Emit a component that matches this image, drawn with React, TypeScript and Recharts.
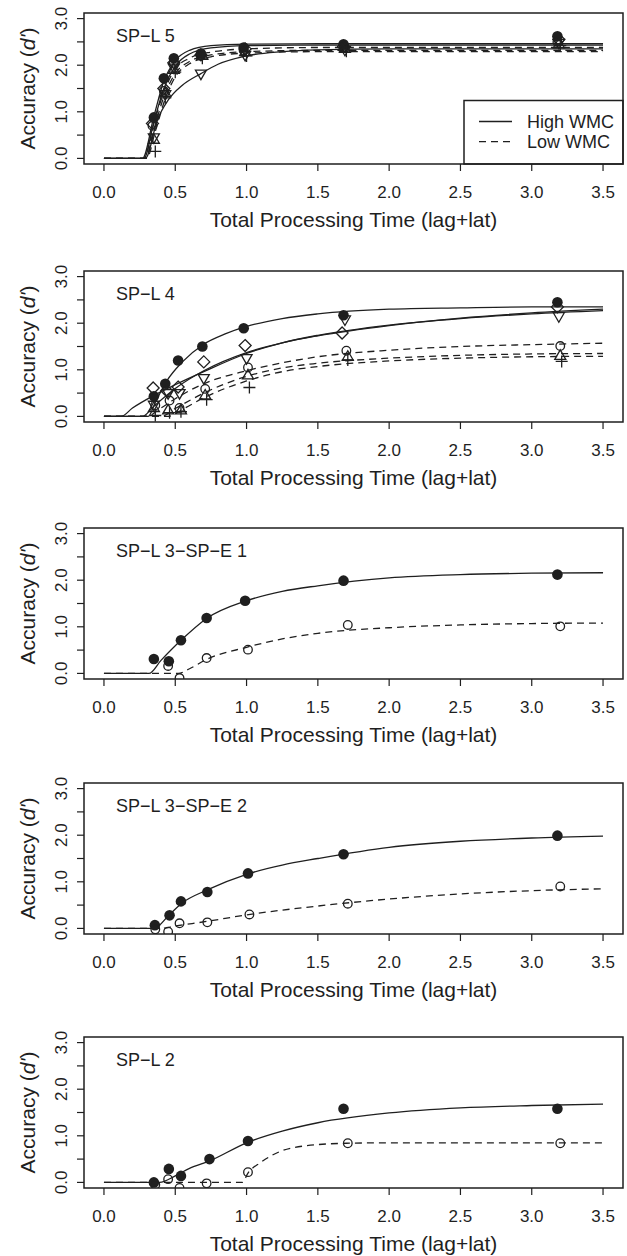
import React from 'react';
import { ComposedChart, Line, Scatter, XAxis, YAxis, ReferenceArea } from 'recharts';

type Pair = [number, number];
type MarkerKind = 'dot' | 'ring' | 'diamond' | 'down' | 'up' | 'plus';

const X_TICKS = [0, 0.5, 1, 1.5, 2, 2.5, 3, 3.5];
const Y_TICKS = [0, 0.5, 1, 1.5, 2, 2.5, 3];
const PANEL_TITLES = ['SP−L 5', 'SP−L 4', 'SP−L 3−SP−E 1', 'SP−L 3−SP−E 2', 'SP−L 2'];
const LEGEND_LABELS = ['High WMC', 'Low WMC'];
const X_TITLE = 'Total Processing Time (lag+lat)';

// SP-L 5 : observed points
const L5_HI_A: Pair[] = [[0.35, 0.88], [0.42, 1.72], [0.49, 2.15], [0.68, 2.25], [0.98, 2.38], [1.68, 2.45], [3.18, 2.62]];
const L5_HI_B: Pair[] = [[0.34, 0.75], [0.42, 1.5], [0.49, 2.05], [0.68, 2.22], [0.99, 2.35], [1.68, 2.4], [3.19, 2.55]];
const L5_HI_C: Pair[] = [[0.35, 0.45], [0.43, 1.38], [0.49, 1.95], [0.68, 1.82], [0.99, 2.22], [1.69, 2.33], [3.19, 2.48]];
const L5_LO_A: Pair[] = [[0.34, 0.7], [0.42, 1.45], [0.49, 2.05], [0.68, 2.2], [0.98, 2.32], [1.68, 2.38], [3.18, 2.5]];
const L5_LO_B: Pair[] = [[0.35, 0.4], [0.43, 1.4], [0.49, 1.9], [0.69, 2.2], [0.99, 2.28], [1.69, 2.35], [3.19, 2.45]];
const L5_LO_C: Pair[] = [[0.36, 0.15], [0.43, 1.3], [0.5, 1.85], [0.69, 2.15], [1.0, 2.2], [1.7, 2.3], [3.2, 2.42]];
// SP-L 5 : fitted curves
const L5_HI_A_FIT: Pair[] = [[0, 0], [0.27, 0], [0.35, 0.9], [0.42, 1.66], [0.5, 2.1], [0.6, 2.32], [0.75, 2.42], [1, 2.45], [1.5, 2.46], [3.5, 2.46]];
const L5_HI_B_FIT: Pair[] = [[0, 0], [0.28, 0], [0.35, 0.78], [0.42, 1.5], [0.5, 1.98], [0.6, 2.24], [0.75, 2.37], [1, 2.42], [1.5, 2.43], [3.5, 2.43]];
const L5_HI_C_FIT: Pair[] = [[0, 0], [0.29, 0], [0.375, 0.83], [0.45, 1.25], [0.55, 1.57], [0.68, 1.82], [0.8, 2.02], [1, 2.2], [1.25, 2.29], [1.5, 2.33], [2, 2.35], [3.5, 2.35]];
const L5_LO_A_FIT: Pair[] = [[0, 0], [0.28, 0], [0.35, 0.75], [0.42, 1.42], [0.5, 1.92], [0.6, 2.15], [0.75, 2.28], [1, 2.35], [1.5, 2.38], [3.5, 2.38]];
const L5_LO_B_FIT: Pair[] = [[0, 0], [0.29, 0], [0.35, 0.62], [0.42, 1.32], [0.5, 1.82], [0.6, 2.08], [0.75, 2.22], [1, 2.29], [1.5, 2.32], [3.5, 2.32]];
const L5_LO_C_FIT: Pair[] = [[0, 0], [0.3, 0], [0.36, 0.58], [0.43, 1.28], [0.5, 1.75], [0.6, 2.03], [0.75, 2.18], [1, 2.26], [1.5, 2.29], [3.5, 2.29]];

// SP-L 4
const L4_HI_A: Pair[] = [[0.35, 0.43], [0.43, 0.7], [0.52, 1.2], [0.69, 1.5], [0.98, 1.89], [1.68, 2.17], [3.18, 2.45]];
const L4_HI_B: Pair[] = [[0.345, 0.61], [0.44, 0.55], [0.52, 0.63], [0.7, 1.17], [0.99, 1.52], [1.67, 1.79], [3.18, 2.35]];
const L4_HI_C: Pair[] = [[0.35, 0.25], [0.45, 0.5], [0.53, 0.5], [0.7, 0.82], [1.0, 1.25], [1.69, 2.08], [3.19, 2.15]];
const L4_LO_A: Pair[] = [[0.36, 0.24], [0.46, 0.34], [0.53, 0.18], [0.71, 0.59], [1.01, 1.05], [1.7, 1.41], [3.2, 1.51]];
const L4_LO_B: Pair[] = [[0.35, 0.18], [0.45, 0.13], [0.54, 0.13], [0.71, 0.45], [1.01, 0.88], [1.71, 1.28], [3.2, 1.3]];
const L4_LO_C: Pair[] = [[0.36, 0.02], [0.46, 0.08], [0.54, 0.1], [0.72, 0.36], [1.02, 0.62], [1.71, 1.21], [3.21, 1.18]];
const L4_HI_A_FIT: Pair[] = [[0, 0], [0.31, 0], [0.36, 0.3], [0.44, 0.76], [0.55, 1.17], [0.7, 1.55], [0.85, 1.77], [1, 1.93], [1.25, 2.1], [1.5, 2.2], [2, 2.3], [2.5, 2.33], [3, 2.35], [3.5, 2.35]];
const L4_HI_B_FIT: Pair[] = [[0, 0], [0.12, 0], [0.2, 0.18], [0.35, 0.45], [0.5, 0.68], [0.7, 0.96], [1, 1.35], [1.25, 1.58], [1.5, 1.74], [2, 1.96], [2.5, 2.1], [3, 2.2], [3.5, 2.27]];
const L4_HI_C_FIT: Pair[] = [[0, 0], [0.27, 0], [0.35, 0.22], [0.5, 0.6], [0.7, 0.98], [1, 1.37], [1.25, 1.58], [1.5, 1.73], [2, 1.95], [2.5, 2.11], [3, 2.22], [3.5, 2.3]];
const L4_LO_A_FIT: Pair[] = [[0, 0], [0.3, 0], [0.4, 0.18], [0.5, 0.38], [0.7, 0.7], [1, 0.98], [1.25, 1.15], [1.5, 1.28], [2, 1.42], [2.5, 1.5], [3, 1.54], [3.5, 1.57]];
const L4_LO_B_FIT: Pair[] = [[0, 0], [0.4, 0], [0.5, 0.17], [0.7, 0.5], [1, 0.86], [1.25, 1.04], [1.5, 1.14], [2, 1.25], [2.5, 1.31], [3, 1.34], [3.5, 1.35]];
const L4_LO_C_FIT: Pair[] = [[0, 0], [0.45, 0], [0.55, 0.15], [0.7, 0.4], [1, 0.76], [1.25, 0.96], [1.5, 1.07], [2, 1.19], [2.5, 1.25], [3, 1.28], [3.5, 1.29]];

// SP-L 3-SP-E 1
const L3E1_HI: Pair[] = [[0.35, 0.31], [0.455, 0.26], [0.54, 0.71], [0.72, 1.19], [0.99, 1.56], [1.68, 1.99], [3.18, 2.12]];
const L3E1_LO: Pair[] = [[0.45, 0.16], [0.53, -0.1], [0.72, 0.33], [1.01, 0.51], [1.71, 1.04], [3.2, 1.01]];
const L3E1_HI_FIT: Pair[] = [[0, 0], [0.315, 0], [0.4, 0.28], [0.54, 0.71], [0.72, 1.18], [1, 1.56], [1.25, 1.76], [1.5, 1.88], [2, 2.05], [2.5, 2.12], [3, 2.15], [3.5, 2.16]];
const L3E1_LO_FIT: Pair[] = [[0, 0], [0.52, 0], [0.6, 0.1], [0.72, 0.3], [1, 0.56], [1.25, 0.74], [1.5, 0.86], [2, 0.98], [2.5, 1.04], [3, 1.07], [3.5, 1.08]];

// SP-L 3-SP-E 2
const L3E2_HI: Pair[] = [[0.357, 0.07], [0.46, 0.28], [0.54, 0.58], [0.725, 0.78], [1.01, 1.18], [1.68, 1.59], [3.18, 1.99]];
const L3E2_LO: Pair[] = [[0.36, -0.02], [0.45, -0.07], [0.53, 0.11], [0.725, 0.13], [1.02, 0.3], [1.71, 0.53], [3.2, 0.9]];
const L3E2_HI_FIT: Pair[] = [[0, 0], [0.35, 0], [0.46, 0.3], [0.55, 0.55], [0.72, 0.82], [1, 1.16], [1.25, 1.36], [1.5, 1.5], [2, 1.74], [2.5, 1.87], [3, 1.94], [3.5, 1.98]];
const L3E2_LO_FIT: Pair[] = [[0, 0], [0.4, 0], [0.5, 0.05], [0.72, 0.15], [1, 0.29], [1.5, 0.48], [2, 0.63], [2.5, 0.74], [3, 0.81], [3.5, 0.85]];

// SP-L 2
const L2_HI: Pair[] = [[0.35, 0.0], [0.455, 0.29], [0.54, 0.14], [0.74, 0.5], [1.01, 0.89], [1.68, 1.58], [3.18, 1.58]];
const L2_LO: Pair[] = [[0.36, -0.05], [0.45, 0.07], [0.53, -0.12], [0.72, -0.02], [1.01, 0.22], [1.71, 0.84], [3.2, 0.84]];
const L2_HI_FIT: Pair[] = [[0, 0], [0.39, 0], [0.5, 0.14], [0.6, 0.3], [0.74, 0.46], [1, 0.85], [1.25, 1.1], [1.5, 1.28], [2, 1.49], [2.5, 1.6], [3, 1.65], [3.5, 1.68]];
const L2_LO_FIT: Pair[] = [[0, 0], [0.97, 0], [1.01, 0.2], [1.1, 0.43], [1.24, 0.67], [1.4, 0.78], [1.7, 0.84], [2, 0.85], [3.5, 0.85]];

const INK = '#1f1f1f';
const FONT = '"Liberation Sans", Arial, Helvetica, sans-serif';
const W = 627;
const H = 232;
const TOPS = [0, 258, 515, 770, 1024];
const PLOT_LEFT = 84;
const PLOT_RIGHT = 623;
const PLOT_TOP = 13;
const PLOT_BOTTOM = 164;

type Series = { pts: Pair[]; fit: Pair[]; marker: MarkerKind; dashed: boolean };

const PANELS: Series[][] = [
  [
    { pts: L5_HI_A, fit: L5_HI_A_FIT, marker: 'dot', dashed: false },
    { pts: L5_HI_B, fit: L5_HI_B_FIT, marker: 'diamond', dashed: false },
    { pts: L5_HI_C, fit: L5_HI_C_FIT, marker: 'down', dashed: false },
    { pts: L5_LO_A, fit: L5_LO_A_FIT, marker: 'ring', dashed: true },
    { pts: L5_LO_B, fit: L5_LO_B_FIT, marker: 'up', dashed: true },
    { pts: L5_LO_C, fit: L5_LO_C_FIT, marker: 'plus', dashed: true },
  ],
  [
    { pts: L4_HI_A, fit: L4_HI_A_FIT, marker: 'dot', dashed: false },
    { pts: L4_HI_B, fit: L4_HI_B_FIT, marker: 'diamond', dashed: false },
    { pts: L4_HI_C, fit: L4_HI_C_FIT, marker: 'down', dashed: false },
    { pts: L4_LO_A, fit: L4_LO_A_FIT, marker: 'ring', dashed: true },
    { pts: L4_LO_B, fit: L4_LO_B_FIT, marker: 'up', dashed: true },
    { pts: L4_LO_C, fit: L4_LO_C_FIT, marker: 'plus', dashed: true },
  ],
  [
    { pts: L3E1_HI, fit: L3E1_HI_FIT, marker: 'dot', dashed: false },
    { pts: L3E1_LO, fit: L3E1_LO_FIT, marker: 'ring', dashed: true },
  ],
  [
    { pts: L3E2_HI, fit: L3E2_HI_FIT, marker: 'dot', dashed: false },
    { pts: L3E2_LO, fit: L3E2_LO_FIT, marker: 'ring', dashed: true },
  ],
  [
    { pts: L2_HI, fit: L2_HI_FIT, marker: 'dot', dashed: false },
    { pts: L2_LO, fit: L2_LO_FIT, marker: 'ring', dashed: true },
  ],
];

const toObj = (arr: Pair[]) => arr.map(([x, y]) => ({ x, y }));

function drawMarker(kind: MarkerKind, cx: number, cy: number) {
  const s = { fill: 'none', stroke: INK, strokeWidth: 1.3 };
  switch (kind) {
    case 'dot':
      return <circle cx={cx} cy={cy} r={5.3} fill={INK} />;
    case 'ring':
      return <circle cx={cx} cy={cy} r={4.3} {...s} />;
    case 'diamond':
      return <polygon points={`${cx},${cy - 6} ${cx + 6},${cy} ${cx},${cy + 6} ${cx - 6},${cy}`} {...s} />;
    case 'down':
      return <polygon points={`${cx - 5.5},${cy - 3.5} ${cx + 5.5},${cy - 3.5} ${cx},${cy + 6}`} {...s} />;
    case 'up':
      return <polygon points={`${cx - 5.5},${cy + 3.5} ${cx + 5.5},${cy + 3.5} ${cx},${cy - 6}`} {...s} />;
    case 'plus':
      return <path d={`M${cx - 6},${cy}H${cx + 6}M${cx},${cy - 6}V${cy + 6}`} {...s} />;
  }
}

const renderXTick = (props: any) => (
  <text x={props.x} y={PLOT_BOTTOM + 34} textAnchor="middle" fontSize={17} fontFamily={FONT} fill={INK}>
    {Number(props.payload.value).toFixed(1)}
  </text>
);

const renderYTick = (props: any) => {
  const v = Number(props.payload.value);
  if (Math.abs(v - Math.round(v)) > 1e-6) return <g />;
  return (
    <text
      transform={`translate(67, ${props.y}) rotate(-90)`}
      textAnchor="middle"
      fontSize={17}
      fontFamily={FONT}
      fill={INK}
    >
      {v.toFixed(1)}
    </text>
  );
};

function Panel({ index }: { index: number }) {
  const series = PANELS[index];
  const midY = (PLOT_TOP + PLOT_BOTTOM) / 2;
  return (
    <div style={{ position: 'absolute', left: 0, top: TOPS[index], width: W, height: H }}>
      <ComposedChart width={W} height={H} margin={{ top: PLOT_TOP, right: W - PLOT_RIGHT, bottom: 0, left: 0 }}>
        <XAxis
          type="number"
          dataKey="x"
          domain={[-0.14, 3.64]}
          ticks={X_TICKS}
          interval={0}
          allowDataOverflow
          axisLine={false}
          tickSize={7}
          tickLine={{ stroke: INK, strokeWidth: 1.2 }}
          tick={renderXTick}
          height={H - PLOT_BOTTOM}
        />
        <YAxis
          type="number"
          dataKey="y"
          domain={[-0.12, 3.12]}
          ticks={Y_TICKS}
          interval={0}
          allowDataOverflow
          axisLine={false}
          tickSize={7}
          tickLine={{ stroke: INK, strokeWidth: 1.2 }}
          tick={renderYTick}
          width={PLOT_LEFT}
        />
        <ReferenceArea x1={-0.14} x2={3.64} y1={-0.12} y2={3.12} fill="none" fillOpacity={0} stroke={INK} strokeWidth={1.5} />
        {series.map((s, i) => (
          <Line
            key={`fit-${i}`}
            data={toObj(s.fit)}
            dataKey="y"
            type="monotone"
            stroke={INK}
            strokeWidth={1.3}
            strokeDasharray={s.dashed ? '7 5' : undefined}
            dot={false}
            activeDot={false}
            isAnimationActive={false}
          />
        ))}
        {series.map((s, i) => (
          <Scatter
            key={`pts-${i}`}
            data={toObj(s.pts)}
            dataKey="y"
            isAnimationActive={false}
            shape={(p: any) => drawMarker(s.marker, p.cx, p.cy)}
          />
        ))}
        <text x={116} y={42} fontSize={18} fontFamily={FONT} fill={INK}>
          {PANEL_TITLES[index]}
        </text>
        <text x={(PLOT_LEFT + PLOT_RIGHT) / 2} y={227} textAnchor="middle" fontSize={21} fontFamily={FONT} fill={INK}>
          {X_TITLE}
        </text>
        <text transform={`translate(35, ${midY}) rotate(-90)`} textAnchor="middle" fontSize={21} fontFamily={FONT} fill={INK}>
          Accuracy (<tspan fontStyle="italic">d'</tspan>)
        </text>
        {index === 0 && (
          <g>
            <rect x={464} y={100.5} width={PLOT_RIGHT - 464} height={PLOT_BOTTOM - 100.5} fill="white" stroke={INK} strokeWidth={1.5} />
            <line x1={479} x2={512} y1={121.5} y2={121.5} stroke={INK} strokeWidth={1.3} />
            <line x1={479} x2={512} y1={141.7} y2={141.7} stroke={INK} strokeWidth={1.3} strokeDasharray="7 5" />
            <text x={527} y={127.5} fontSize={18} fontFamily={FONT} fill={INK}>{LEGEND_LABELS[0]}</text>
            <text x={527} y={148} fontSize={18} fontFamily={FONT} fill={INK}>{LEGEND_LABELS[1]}</text>
          </g>
        )}
      </ComposedChart>
    </div>
  );
}

export default function App() {
  return (
    <div style={{ position: 'absolute', left: 0, top: 0, width: W, height: 1256, background: 'white' }}>
      {PANEL_TITLES.map((_, i) => (
        <Panel key={i} index={i} />
      ))}
    </div>
  );
}
